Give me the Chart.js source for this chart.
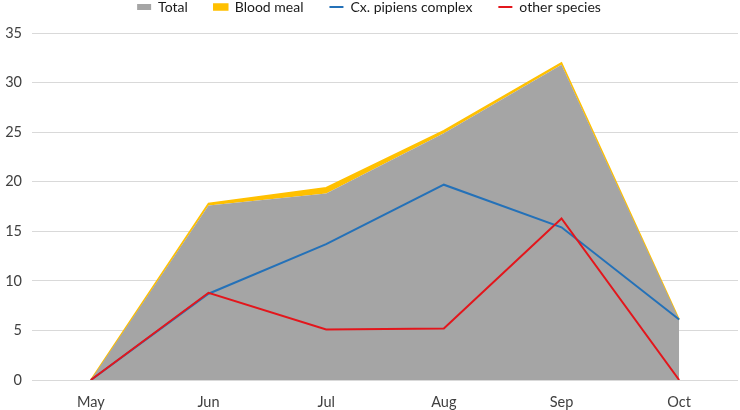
<!DOCTYPE html>
<html>
<head>
<meta charset="utf-8">
<script src="https://cdn.jsdelivr.net/npm/chart.js@4"></script>
<style>
  html, body { margin: 0; padding: 0; background: #fff; }
  #wrap { width: 740px; height: 410px; }
</style>
</head>
<body>
<div id="wrap"><canvas id="mosquitoChart"></canvas></div>
<script>
// months and counts
const months = ["May", "Jun", "Jul", "Aug", "Sep", "Oct"];
const total = [0, 17.6, 18.8, 24.9, 31.8, 6.1];
const bloodMeal = [0, 0.2, 0.6, 0.25, 0.2, 0];
const cxPipiens = [0, 8.7, 13.7, 19.7, 15.4, 6.1];
const otherSpecies = [0, 8.8, 5.1, 5.2, 16.3, 0];
const yTicks = [0, 5, 10, 15, 20, 25, 30, 35];

const fontFamily = "Lato, 'Noto Sans', sans-serif";

// legend sits higher than chart.js puts it, keep the plot top fixed
const legendHeight = {
    id: "legendHeight",
    beforeInit(chart) {
        const fit = chart.legend.fit;
        chart.legend.fit = function () {
            fit.call(this);
            this.height = 59;
        };
    },
};

const ctx = document.getElementById("mosquitoChart").getContext("2d");

new Chart(ctx, {
    type: "line",
    data: {
        labels: months,
        datasets: [
            {
                label: "Total",
                data: total,
                stack: "area",
                backgroundColor: "#a5a5a5",
                borderColor: "#a5a5a5",
                borderWidth: 0,
                fill: "origin",
                pointStyle: "rect",
                order: 2,
            },
            {
                label: "Blood meal",
                data: bloodMeal,
                stack: "area",
                backgroundColor: "#ffc000",
                borderColor: "#ffc000",
                borderWidth: 1.5,
                fill: "-1",
                pointStyle: "rect",
                order: 3,
            },
            {
                label: "Cx. pipiens complex",
                data: cxPipiens,
                stack: "cx",
                borderColor: "#2471b8",
                backgroundColor: "#2471b8",
                borderWidth: 2,
                fill: false,
                pointStyle: "line",
                order: 1,
            },
            {
                label: "other species",
                data: otherSpecies,
                stack: "other",
                borderColor: "#e3161c",
                backgroundColor: "#e3161c",
                borderWidth: 2,
                fill: false,
                pointStyle: "line",
                order: 0,
            },
        ],
    },
    plugins: [legendHeight],
    options: {
        responsive: true,
        maintainAspectRatio: false,
        animation: false,
        layout: { padding: { left: 0, right: 2, top: -26, bottom: 0 } },
        elements: {
            point: { radius: 0, hoverRadius: 0 },
            line: { tension: 0 },
        },
        plugins: {
            tooltip: { enabled: false },
            legend: {
                display: true,
                position: "top",
                labels: {
                    usePointStyle: true,
                    pointStyleWidth: 14,
                    boxHeight: 6,
                    padding: 26,
                    color: "#1a1a1a",
                    font: { family: fontFamily, size: 14 },
                    sort: (a, b) => a.datasetIndex - b.datasetIndex,
                },
            },
        },
        scales: {
            x: {
                offset: true,
                grid: { display: false },
                border: { display: false },
                afterFit: (scale) => {
                    scale.height = 30;
                },
                ticks: {
                    color: "#404040",
                    padding: 6,
                    font: { family: fontFamily, size: 14.5 },
                },
            },
            y: {
                stacked: true,
                min: 0,
                max: 35,
                afterBuildTicks: (scale) => {
                    scale.ticks = yTicks.map(v => ({ value: v }));
                },
                afterFit: (scale) => {
                    scale.width = 32;
                },
                grid: { color: "#d9d9d9", drawTicks: false },
                border: { display: false },
                ticks: {
                    color: "#404040",
                    padding: 10,
                    font: { family: fontFamily, size: 14.5 },
                },
            },
        },
    },
});
</script>
</body>
</html>
